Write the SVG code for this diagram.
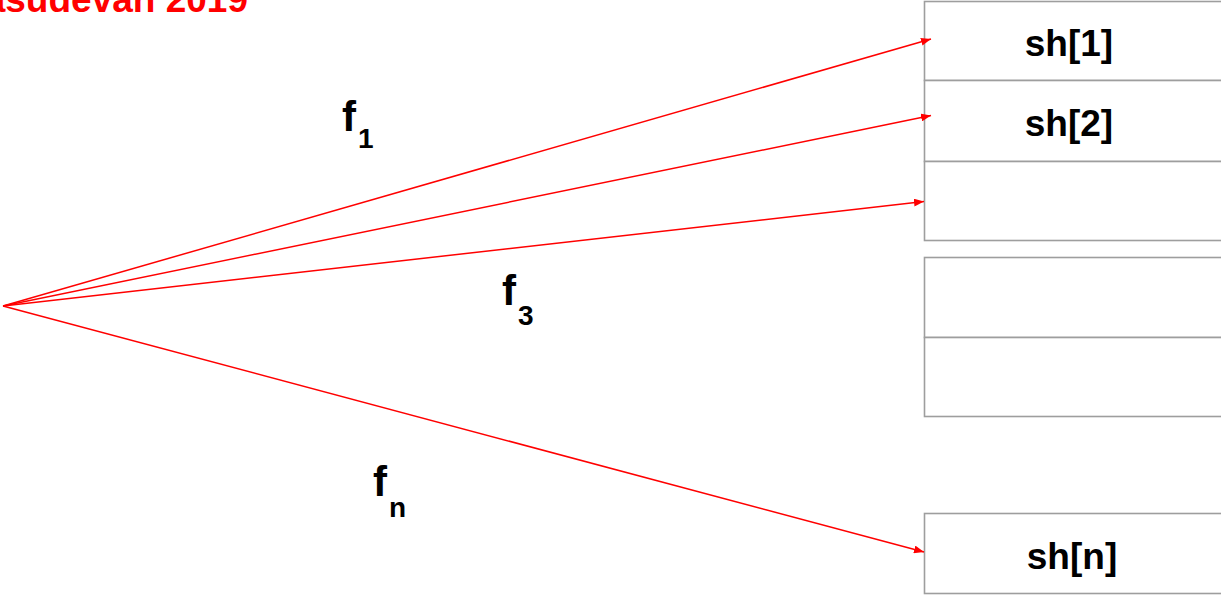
<svg xmlns="http://www.w3.org/2000/svg" width="1221" height="595" viewBox="0 0 1221 595">
<style>
.box{fill:#fff;stroke:#9e9e9e;stroke-width:1.6}
.lbl{font-family:"Liberation Sans",Arial,sans-serif;font-weight:bold;font-size:37px;fill:#000;text-anchor:middle}
.f{font-family:"Liberation Sans",Arial,sans-serif;font-weight:bold;font-size:42px;fill:#000}
.sub{font-size:28px}
.conn{stroke:#ff0000;stroke-width:1.5;fill:none;marker-end:url(#ah)}
.title{font-family:"Liberation Sans",Arial,sans-serif;font-weight:bold;font-size:37px;fill:#ff0000;text-anchor:end}
</style>
<defs>
<marker id="ah" viewBox="0 0 10 8" refX="10" refY="4" markerWidth="10" markerHeight="8" markerUnits="userSpaceOnUse" orient="auto">
<path d="M0,0 L10,4 L0,8 z" fill="#ff0000"/>
</marker>
</defs>
<rect width="1221" height="595" fill="#fff"/>
<text class="title" x="248" y="12">Vasudevan 2019</text>
<g id="stack1">
<g id="sh1"><rect class="box" x="924.5" y="1.5" width="300" height="79"/><text class="lbl" x="1069" y="56">sh[1]</text></g>
<g id="sh2"><rect class="box" x="924.5" y="80.5" width="300" height="81"/><text class="lbl" x="1069" y="136">sh[2]</text></g>
<g id="sh3"><rect class="box" x="924.5" y="161.5" width="300" height="79"/></g>
</g>
<g id="stack2">
<g id="sh4"><rect class="box" x="924.5" y="257.5" width="300" height="80"/></g>
<g id="sh5"><rect class="box" x="924.5" y="337.5" width="300" height="79"/></g>
</g>
<g id="shn"><rect class="box" x="924.5" y="513.5" width="300" height="80"/><text class="lbl" x="1072" y="569">sh[n]</text></g>
<g id="connectors">
<line class="conn" x1="3" y1="306" x2="931" y2="39"/>
<line class="conn" x1="3" y1="306" x2="931" y2="115.5"/>
<line class="conn" x1="3" y1="306" x2="924" y2="201.5"/>
<line class="conn" x1="3" y1="306" x2="924" y2="552"/>
</g>
<g id="labels">
<text class="f" x="342" y="131">f<tspan class="sub" dx="2" dy="17">1</tspan></text>
<text class="f" x="502" y="305">f<tspan class="sub" dx="2" dy="20">3</tspan></text>
<text class="f" x="373" y="496">f<tspan class="sub" dx="2" dy="21">n</tspan></text>
</g>
</svg>
